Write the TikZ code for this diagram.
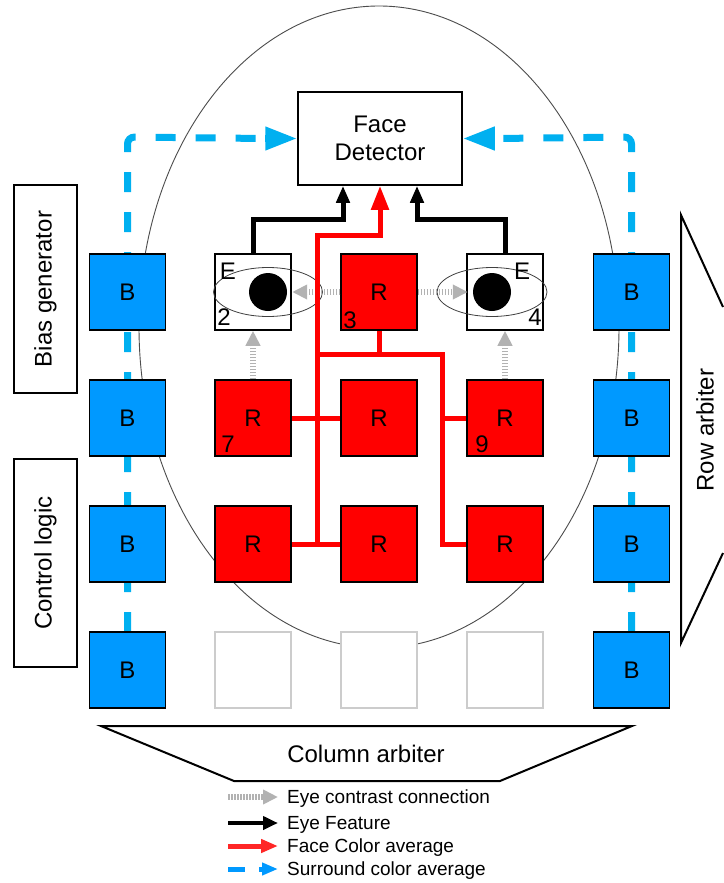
\documentclass[tikz,border=0pt]{standalone}
\usepackage{fontspec}
\setmainfont{Liberation Sans}
\usetikzlibrary{arrows.meta}
\definecolor{bblue}{RGB}{0,153,255}
\definecolor{dblue}{RGB}{0,176,240}
\begin{document}
\begin{tikzpicture}[x=1pt,y=-1pt,
  every node/.style={font=\fontsize{24}{28}\selectfont, inner sep=0pt},
  cell/.style={draw=black, line width=1.5pt, minimum size=76pt, inner sep=0pt},
  bcell/.style={cell, fill=bblue},
  rcell/.style={cell, fill=red},
  ecell/.style={cell, fill=white},
  ghost/.style={cell, draw=black!20, fill=white},
  sidebox/.style={draw=black, line width=2pt, minimum width=208pt, minimum height=63pt, rotate=90},
  blkarrow/.style={line width=5pt, black, -{Triangle[length=17pt,width=13pt]}},
  redline/.style={line width=5pt, red},
  redarrow/.style={redline, -{Triangle[length=24pt,width=17pt]}},
  bluedash/.style={line width=7pt, dblue, dash pattern=on 20pt off 20pt, rounded corners=7pt},
  bluetip/.style={line width=7pt, dblue, -{Triangle[length=32pt,width=22pt]}},
  eyeline/.style={line width=5.5pt, black!30, dash pattern=on 1.5pt off 1.5pt},
  eyearrow/.style={eyeline, -{Triangle[length=15pt,width=14pt]}},
  legendtext/.style={font=\fontsize{19}{22}\selectfont, anchor=base west}
]
\useasboundingbox[fill=white] (0,0) rectangle (723,883);

% head outline
\draw[black!70, line width=0.9pt] (379,327) ellipse [x radius=240, y radius=321];

% face detector
\node[draw=black, line width=1.5pt, fill=white, minimum width=164pt, minimum height=93pt, align=center] (fd) at (380,138.5) {Face\\Detector};

% surround lines (drawn before the B cells so that the cells cover them)
\coordinate (cl) at (127.5,137);
\coordinate (cr) at (631.5,137);
\coordinate (lbot) at (127.5,632);
\coordinate (rbot) at (631.5,632);
\draw[bluedash] (lbot) -- (cl) -- ([xshift=-34pt]fd.west);
\draw[bluedash] (rbot) -- (cr) -- ([xshift=34pt]fd.east);
\draw[bluetip] ([xshift=-32pt]fd.west) -- (fd.west);
\draw[bluetip] ([xshift=32pt]fd.east) -- (fd.east);

% cells
\node[bcell] (bL1) at (127.5,292) {B};
\node[bcell] (bL2) at (127.5,418) {B};
\node[bcell] (bL3) at (127.5,544) {B};
\node[bcell] (bL4) at (127.5,670) {B};
\node[bcell] (bR1) at (631.5,292) {B};
\node[bcell] (bR2) at (631.5,418) {B};
\node[bcell] (bR3) at (631.5,544) {B};
\node[bcell] (bR4) at (631.5,670) {B};

\node[ecell] (eL) at (253,292) {};
\node[rcell] (r3) at (379,292) {R};
\node[ecell] (eR) at (505,292) {};
\node[rcell] (r7) at (253,418) {R};
\node[rcell] (r8) at (379,418) {R};
\node[rcell] (r9) at (505,418) {R};
\node[rcell] (ra) at (253,544) {R};
\node[rcell] (rb) at (379,544) {R};
\node[rcell] (rc) at (505,544) {R};
\node[ghost] (g1) at (253,670) {};
\node[ghost] (g2) at (379,670) {};
\node[ghost] (g3) at (505,670) {};

% eyes
\draw[black!75, line width=0.8pt] (268,292) ellipse [x radius=54.5, y radius=24.5];
\draw[black!75, line width=0.8pt] (492,292) ellipse [x radius=55, y radius=24.5];
\node[circle, fill=black, minimum size=38pt] (pL) at (268,292) {};
\node[circle, fill=black, minimum size=38pt] (pR) at (492,292) {};

% eye contrast connections
\draw[eyearrow, shorten >=5pt] (r3.west) -- (pL.east);
\draw[eyearrow, shorten >=5pt] (r3.east) -- (pR.west);
\draw[eyearrow] (r7.north) -- (eL.south);
\draw[eyearrow] (r9.north) -- (eR.south);

% face colour average network
\coordinate (rj) at (317,544);
\coordinate (rtop) at (317,235);
\coordinate (jl) at (317,354);
\coordinate (jr) at (442,354);
\draw[redarrow] (rj) -- (rtop) -| (fd.south);
\draw[redline] (r3.south) -- (r3.south |- jl);
\draw[redline] (jl) -- (jr) |- (rc.west);
\draw[redline] (jr |- r9.west) -- (r9.west);
\draw[redline] (r7.east) -- (r8.west);
\draw[redline] (ra.east) -- (rb.west);

% eye features
\coordinate (kl) at (343,219);
\coordinate (kr) at (417,219);
\draw[blkarrow] (eL.north) |- (kl) -- (kl |- fd.south);
\draw[blkarrow] (eR.north) |- (kr) -- (kr |- fd.south);

% cell labels
\node (tE2) at (228,271) {E};
\node (t2) at (224,317) {2};
\node (tE4) at (522,271) {E};
\node (t4) at (535,317) {4};
\node (t3) at (350,320) {3};
\node (t7) at (228,444) {7};
\node (t9) at (482,444) {9};

% side blocks
\node[sidebox] (bias) at (45.5,289) {Bias generator};
\node[sidebox] (ctrl) at (45.5,563) {Control logic};

% row arbiter
\draw[black, line width=2pt] (723,307) -- (681,215) -- (681,643) -- (723,553);
\node[rotate=90] (rowarb) at (705,430) {Row arbiter};

% column arbiter
\draw[black, line width=2pt] (101,726) -- (632,726) -- (500,781) -- (234,781) -- cycle;
\node (colarb) at (366,754) {Column arbiter};

% legend
\node[legendtext] (lg1) at (287,803.5) {Eye contrast connection};
\node[legendtext] (lg2) at (287,829.5) {Eye Feature};
\node[legendtext] (lg3) at (287,852.5) {Face Color average};
\node[legendtext] (lg4) at (287,875.5) {Surround color average};
\draw[eyearrow] ([shift={(-59pt,6.5pt)}]lg1.base west) -- ([shift={(-9pt,6.5pt)}]lg1.base west);
\draw[line width=4.5pt, black, -{Triangle[length=15pt,width=13pt]}] ([shift={(-59pt,6.5pt)}]lg2.base west) -- ([shift={(-9pt,6.5pt)}]lg2.base west);
\draw[line width=5pt, red!85, -{Triangle[length=17pt,width=13pt]}] ([shift={(-59pt,6.5pt)}]lg3.base west) -- ([shift={(-9pt,6.5pt)}]lg3.base west);
\draw[line width=5pt, bblue] ([shift={(-59pt,6.5pt)}]lg4.base west) -- ([shift={(-42pt,6.5pt)}]lg4.base west);
\draw[line width=5pt, bblue, -{Triangle[length=16pt,width=12pt]}] ([shift={(-28pt,6.5pt)}]lg4.base west) -- ([shift={(-9pt,6.5pt)}]lg4.base west);
\end{tikzpicture}
\end{document}
